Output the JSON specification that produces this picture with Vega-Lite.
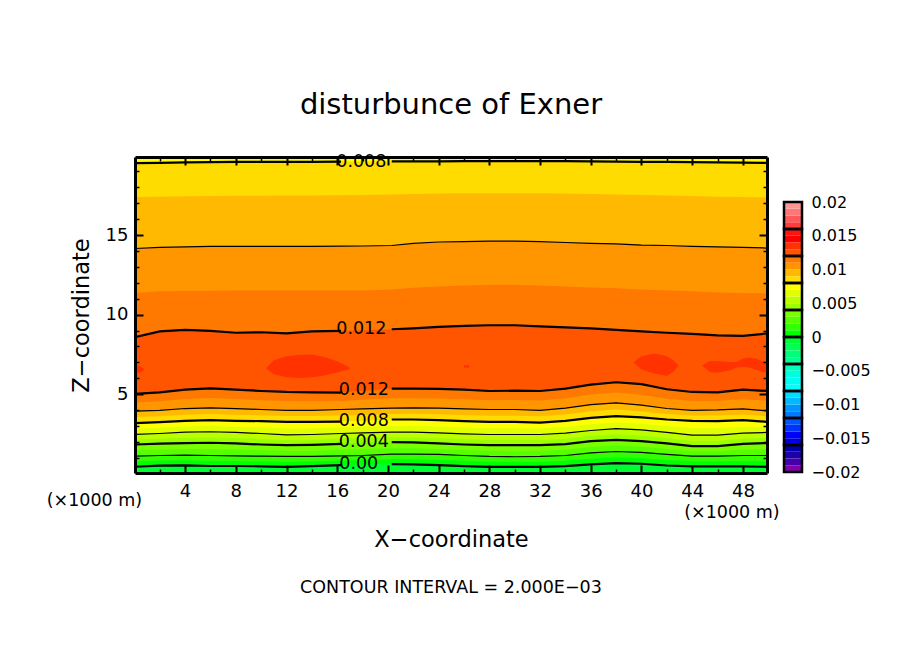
{
  "$schema": "https://vega.github.io/schema/vega-lite/v6.json",
  "padding": {"left": 46, "top": 90, "right": 5, "bottom": 5},
  "background": "white",
  "bounds": "flush",
  "spacing": 17,
  "config": {
    "font": "DejaVu Sans",
    "view": {"stroke": null},
    "legend": {"disable": true},
    "axis": {"grid": false}
  },
  "datasets": {
    "contours": [
      {"x":0,"side":"w","b0":0.44,"b1":0.78,"b2":1.11,"b3":1.49,"b4":1.84,"b5":2.16,"b6":2.47,"b7":2.83,"b8":3.18,"b9":3.56,"b10":3.93,"b11":4.48,"b12":5.02,"u11":8.57,"u10":11.36,"u9":14.15,"u8":17.38,"u7":19.51},
      {"x":2,"side":"w","b0":0.51,"b1":0.83,"b2":1.15,"b3":1.52,"b4":1.89,"b5":2.21,"b6":2.53,"b7":2.89,"b8":3.24,"b9":3.62,"b10":3.99,"b11":4.56,"b12":5.12,"u11":8.95,"u10":11.46,"u9":14.22,"u8":17.41,"u7":19.53},
      {"x":4,"side":"w","b0":0.53,"b1":0.85,"b2":1.17,"b3":1.55,"b4":1.93,"b5":2.27,"b6":2.62,"b7":2.97,"b8":3.33,"b9":3.71,"b10":4.10,"b11":4.70,"b12":5.29,"u11":9.04,"u10":11.49,"u9":14.25,"u8":17.43,"u7":19.56},
      {"x":6,"side":"w","b0":0.49,"b1":0.82,"b2":1.15,"b3":1.55,"b4":1.95,"b5":2.29,"b6":2.64,"b7":3.00,"b8":3.37,"b9":3.75,"b10":4.14,"b11":4.76,"b12":5.37,"u11":8.98,"u10":11.50,"u9":14.28,"u8":17.45,"u7":19.58},
      {"x":8,"side":"w","b0":0.49,"b1":0.81,"b2":1.13,"b3":1.52,"b4":1.91,"b5":2.25,"b6":2.60,"b7":2.96,"b8":3.33,"b9":3.71,"b10":4.10,"b11":4.70,"b12":5.29,"u11":8.86,"u10":11.52,"u9":14.28,"u8":17.46,"u7":19.60},
      {"x":10,"side":"w","b0":0.47,"b1":0.79,"b2":1.11,"b3":1.48,"b4":1.84,"b5":2.19,"b6":2.53,"b7":2.92,"b8":3.31,"b9":3.67,"b10":4.04,"b11":4.62,"b12":5.20,"u11":8.89,"u10":11.52,"u9":14.28,"u8":17.46,"u7":19.60},
      {"x":12,"side":"w","b0":0.44,"b1":0.76,"b2":1.09,"b3":1.44,"b4":1.80,"b5":2.12,"b6":2.45,"b7":2.85,"b8":3.26,"b9":3.63,"b10":3.99,"b11":4.57,"b12":5.14,"u11":8.82,"u10":11.52,"u9":14.28,"u8":17.48,"u7":19.60},
      {"x":14,"side":"w","b0":0.48,"b1":0.79,"b2":1.09,"b3":1.45,"b4":1.82,"b5":2.14,"b6":2.47,"b7":2.86,"b8":3.26,"b9":3.63,"b10":3.99,"b11":4.56,"b12":5.12,"u11":8.95,"u10":11.52,"u9":14.28,"u8":17.48,"u7":19.60},
      {"x":16.3,"side":"w","b0":0.55,"b1":0.84,"b2":1.13,"b3":1.51,"b4":1.88,"b5":2.21,"b6":2.53,"b7":2.91,"b8":3.28,"b9":3.66,"b10":4.04,"b11":4.57,"b12":5.10,"u11":8.98,"u10":11.52,"u9":14.30,"u8":17.50,"u7":19.61},
      {"x":18,"side":"m","b0":0.59,"b1":0.87,"b2":1.15,"b3":1.55,"b4":1.95,"b5":2.26,"b6":2.57,"b7":2.95,"b8":3.33,"b9":3.70,"b10":4.08,"b11":4.65,"b12":5.22,"u11":9.01,"u10":11.52,"u9":14.31,"u8":17.51,"u7":19.61},
      {"x":20.3,"side":"e","b0":0.61,"b1":0.92,"b2":1.24,"b3":1.61,"b4":1.99,"b5":2.30,"b6":2.62,"b7":3.01,"b8":3.41,"b9":3.76,"b10":4.12,"b11":4.74,"b12":5.35,"u11":9.08,"u10":11.58,"u9":14.34,"u8":17.54,"u7":19.62},
      {"x":22,"side":"e","b0":0.59,"b1":0.91,"b2":1.24,"b3":1.60,"b4":1.97,"b5":2.29,"b6":2.62,"b7":3.01,"b8":3.41,"b9":3.77,"b10":4.14,"b11":4.75,"b12":5.35,"u11":9.14,"u10":11.68,"u9":14.47,"u8":17.57,"u7":19.63},
      {"x":24,"side":"e","b0":0.55,"b1":0.88,"b2":1.22,"b3":1.56,"b4":1.91,"b5":2.24,"b6":2.57,"b7":2.97,"b8":3.37,"b9":3.74,"b10":4.12,"b11":4.73,"b12":5.33,"u11":9.23,"u10":11.77,"u9":14.56,"u8":17.60,"u7":19.63},
      {"x":26,"side":"e","b0":0.48,"b1":0.82,"b2":1.15,"b3":1.50,"b4":1.84,"b5":2.18,"b6":2.51,"b7":2.91,"b8":3.31,"b9":3.69,"b10":4.08,"b11":4.68,"b12":5.29,"u11":9.29,"u10":11.83,"u9":14.59,"u8":17.63,"u7":19.64},
      {"x":28,"side":"e","b0":0.44,"b1":0.76,"b2":1.09,"b3":1.44,"b4":1.80,"b5":2.13,"b6":2.47,"b7":2.86,"b8":3.26,"b9":3.65,"b10":4.04,"b11":4.62,"b12":5.20,"u11":9.33,"u10":11.87,"u9":14.62,"u8":17.63,"u7":19.64},
      {"x":30,"side":"e","b0":0.44,"b1":0.75,"b2":1.07,"b3":1.43,"b4":1.80,"b5":2.13,"b6":2.47,"b7":2.86,"b8":3.26,"b9":3.65,"b10":4.04,"b11":4.63,"b12":5.22,"u11":9.33,"u10":11.87,"u9":14.62,"u8":17.63,"u7":19.64},
      {"x":32,"side":"e","b0":0.44,"b1":0.76,"b2":1.09,"b3":1.44,"b4":1.80,"b5":2.13,"b6":2.47,"b7":2.84,"b8":3.22,"b9":3.61,"b10":3.99,"b11":4.60,"b12":5.20,"u11":9.26,"u10":11.83,"u9":14.59,"u8":17.62,"u7":19.64},
      {"x":34,"side":"e","b0":0.48,"b1":0.82,"b2":1.15,"b3":1.51,"b4":1.86,"b5":2.21,"b6":2.55,"b7":2.94,"b8":3.33,"b9":3.72,"b10":4.12,"b11":4.74,"b12":5.35,"u11":9.20,"u10":11.77,"u9":14.53,"u8":17.60,"u7":19.64},
      {"x":36,"side":"e","b0":0.59,"b1":0.95,"b2":1.32,"b3":1.69,"b4":2.05,"b5":2.39,"b6":2.72,"b7":3.12,"b8":3.51,"b9":3.93,"b10":4.35,"b11":4.98,"b12":5.60,"u11":9.14,"u10":11.71,"u9":14.47,"u8":17.57,"u7":19.62},
      {"x":38,"side":"e","b0":0.67,"b1":1.04,"b2":1.40,"b3":1.77,"b4":2.13,"b5":2.49,"b6":2.84,"b7":3.23,"b8":3.62,"b9":4.04,"b10":4.45,"b11":5.10,"b12":5.75,"u11":9.04,"u10":11.65,"u9":14.44,"u8":17.54,"u7":19.61},
      {"x":40,"side":"e","b0":0.63,"b1":0.98,"b2":1.34,"b3":1.70,"b4":2.05,"b5":2.40,"b6":2.76,"b7":3.15,"b8":3.54,"b9":3.92,"b10":4.31,"b11":4.97,"b12":5.63,"u11":8.95,"u10":11.58,"u9":14.37,"u8":17.51,"u7":19.60},
      {"x":42,"side":"e","b0":0.52,"b1":0.87,"b2":1.22,"b3":1.56,"b4":1.91,"b5":2.25,"b6":2.60,"b7":3.00,"b8":3.41,"b9":3.75,"b10":4.10,"b11":4.71,"b12":5.31,"u11":8.86,"u10":11.52,"u9":14.34,"u8":17.48,"u7":19.59},
      {"x":44,"side":"e","b0":0.46,"b1":0.79,"b2":1.11,"b3":1.42,"b4":1.74,"b5":2.08,"b6":2.43,"b7":2.88,"b8":3.33,"b9":3.66,"b10":3.99,"b11":4.57,"b12":5.14,"u11":8.79,"u10":11.46,"u9":14.28,"u8":17.45,"u7":19.58},
      {"x":46,"side":"e","b0":0.46,"b1":0.79,"b2":1.11,"b3":1.42,"b4":1.74,"b5":2.08,"b6":2.43,"b7":2.87,"b8":3.31,"b9":3.66,"b10":4.01,"b11":4.57,"b12":5.12,"u11":8.70,"u10":11.39,"u9":14.25,"u8":17.41,"u7":19.56},
      {"x":48,"side":"e","b0":0.46,"b1":0.81,"b2":1.15,"b3":1.52,"b4":1.88,"b5":2.22,"b6":2.55,"b7":2.96,"b8":3.37,"b9":3.72,"b10":4.08,"b11":4.68,"b12":5.29,"u11":8.67,"u10":11.36,"u9":14.22,"u8":17.39,"u7":19.55},
      {"x":50,"side":"e","b0":0.44,"b1":0.80,"b2":1.15,"b3":1.54,"b4":1.93,"b5":2.26,"b6":2.60,"b7":2.93,"b8":3.26,"b9":3.61,"b10":3.95,"b11":4.58,"b12":5.20,"u11":8.82,"u10":11.33,"u9":14.18,"u8":17.37,"u7":19.53}
    ],
    "blobs": [
      {"blob":"a","band":"b13","x":0,"lo":6.34,"hi":6.84},
      {"blob":"a","band":"b13","x":0.4,"lo":6.36,"hi":6.78},
      {"blob":"a","band":"b13","x":0.8,"lo":6.52,"hi":6.55},
      {"blob":"b","band":"b13","x":10.4,"lo":6.61,"hi":6.65},
      {"blob":"b","band":"b13","x":11,"lo":6.25,"hi":7.13},
      {"blob":"b","band":"b13","x":12,"lo":6.07,"hi":7.38},
      {"blob":"b","band":"b13","x":13,"lo":6.02,"hi":7.47},
      {"blob":"b","band":"b13","x":14,"lo":6.07,"hi":7.49},
      {"blob":"b","band":"b13","x":15,"lo":6.17,"hi":7.34},
      {"blob":"b","band":"b13","x":16,"lo":6.36,"hi":7.07},
      {"blob":"b","band":"b13","x":17,"lo":6.59,"hi":6.67},
      {"blob":"c","band":"b13","x":26,"lo":6.67,"hi":6.82},
      {"blob":"c","band":"b13","x":26.4,"lo":6.67,"hi":6.82},
      {"blob":"d","band":"b13","x":39.4,"lo":6.98,"hi":7.03},
      {"blob":"d","band":"b13","x":40,"lo":6.55,"hi":7.38},
      {"blob":"d","band":"b13","x":41,"lo":6.30,"hi":7.55},
      {"blob":"d","band":"b13","x":42,"lo":6.15,"hi":7.38},
      {"blob":"d","band":"b13","x":42.5,"lo":6.40,"hi":7.13},
      {"blob":"d","band":"b13","x":42.9,"lo":6.77,"hi":6.84},
      {"blob":"e","band":"b13","x":44.8,"lo":6.78,"hi":6.82},
      {"blob":"e","band":"b13","x":45.4,"lo":6.40,"hi":7.09},
      {"blob":"e","band":"b13","x":46,"lo":6.34,"hi":7.09},
      {"blob":"e","band":"b13","x":47,"lo":6.50,"hi":7.03},
      {"blob":"e","band":"b13","x":47.5,"lo":6.67,"hi":7.03},
      {"blob":"e","band":"b13","x":48,"lo":6.71,"hi":7.24},
      {"blob":"e","band":"b13","x":48.5,"lo":6.67,"hi":7.30},
      {"blob":"e","band":"b13","x":49,"lo":6.55,"hi":7.24},
      {"blob":"e","band":"b13","x":49.5,"lo":6.40,"hi":7.09},
      {"blob":"e","band":"b13","x":50,"lo":6.34,"hi":7.03}
    ],
    "notes": [
      {"x":17.9,"z":19.61,"label":"0.008"},
      {"x":17.9,"z":9.08,"label":"0.012"},
      {"x":18.1,"z":5.25,"label":"0.012"},
      {"x":18.1,"z":3.31,"label":"0.008"},
      {"x":18.1,"z":1.99,"label":"0.004"},
      {"x":17.7,"z":0.61,"label":"0.00"},
      {"x":-3.15,"z":-1.7,"label":"(×1000 m)"},
      {"x":47.13,"z":-2.45,"label":"(×1000 m)"},
      {"x":24.97,"z":-7.18,"label":"CONTOUR INTERVAL = 2.000E−03"}
    ],
    "scale": [
      {"band":-20,"lo":-0.020,"hi":-0.019},{"band":-19,"lo":-0.019,"hi":-0.018},{"band":-18,"lo":-0.018,"hi":-0.017},{"band":-17,"lo":-0.017,"hi":-0.016},
      {"band":-16,"lo":-0.016,"hi":-0.015},{"band":-15,"lo":-0.015,"hi":-0.014},{"band":-14,"lo":-0.014,"hi":-0.013},{"band":-13,"lo":-0.013,"hi":-0.012},
      {"band":-12,"lo":-0.012,"hi":-0.011},{"band":-11,"lo":-0.011,"hi":-0.010},{"band":-10,"lo":-0.010,"hi":-0.009},{"band":-9,"lo":-0.009,"hi":-0.008},
      {"band":-8,"lo":-0.008,"hi":-0.007},{"band":-7,"lo":-0.007,"hi":-0.006},{"band":-6,"lo":-0.006,"hi":-0.005},{"band":-5,"lo":-0.005,"hi":-0.004},
      {"band":-4,"lo":-0.004,"hi":-0.003},{"band":-3,"lo":-0.003,"hi":-0.002},{"band":-2,"lo":-0.002,"hi":-0.001},{"band":-1,"lo":-0.001,"hi":0},
      {"band":0,"lo":0,"hi":0.001},{"band":1,"lo":0.001,"hi":0.002},{"band":2,"lo":0.002,"hi":0.003},{"band":3,"lo":0.003,"hi":0.004},
      {"band":4,"lo":0.004,"hi":0.005},{"band":5,"lo":0.005,"hi":0.006},{"band":6,"lo":0.006,"hi":0.007},{"band":7,"lo":0.007,"hi":0.008},
      {"band":8,"lo":0.008,"hi":0.009},{"band":9,"lo":0.009,"hi":0.010},{"band":10,"lo":0.010,"hi":0.011},{"band":11,"lo":0.011,"hi":0.012},
      {"band":12,"lo":0.012,"hi":0.013},{"band":13,"lo":0.013,"hi":0.014},{"band":14,"lo":0.014,"hi":0.015},{"band":15,"lo":0.015,"hi":0.016},
      {"band":16,"lo":0.016,"hi":0.017},{"band":17,"lo":0.017,"hi":0.018},{"band":18,"lo":0.018,"hi":0.019},{"band":19,"lo":0.019,"hi":0.020}
    ],
    "segments": [
      {"lo":-0.020,"hi":-0.016},{"lo":-0.016,"hi":-0.012},{"lo":-0.012,"hi":-0.008},{"lo":-0.008,"hi":-0.004},{"lo":-0.004,"hi":0},
      {"lo":0,"hi":0.004},{"lo":0.004,"hi":0.008},{"lo":0.008,"hi":0.012},{"lo":0.012,"hi":0.016},{"lo":0.016,"hi":0.020}
    ]
  },
  "hconcat": [
    {
      "width": 632,
      "height": 316,
      "title": {"text": "disturbunce of Exner", "fontSize": 29, "fontWeight": "normal", "offset": 33, "anchor": "middle"},
      "view": {"fill": "#00ff32"},
      "encoding": {
        "x": {"field": "x", "type": "quantitative", "scale": {"domain": [0.05, 49.9]}, "axis": null}
      },
      "resolve": {"axis": {"x": "independent", "y": "independent"}},
      "layer": [
        {
          "data": {"name": "contours"},
          "transform": [{"fold": ["b0","b1","b2","b3","b4","b5","b6","b7","b8","b9","b10","b11","b12"], "as": ["band", "z"]}],
          "mark": {"type": "area", "clip": true},
          "encoding": {
            "x": {
              "field": "x", "type": "quantitative", "scale": {"domain": [0.05, 49.9]},
              "axis": {
                "orient": "bottom", "title": "X−coordinate", "titleFontSize": 22.5, "titleFontWeight": "normal", "titlePadding": 24,
                "values": [2,4,6,8,10,12,14,16,18,20,22,24,26,28,30,32,34,36,38,40,42,44,46,48],
                "labelExpr": "datum.value % 4 == 0 ? datum.label : ''", "labelFontSize": 18, "labelColor": "black", "labelPadding": 17, "labelOverlap": false,
                "tickColor": "black", "tickSize": {"condition": {"test": "datum.value % 4 == 0", "value": -8}, "value": -4}, "tickWidth": {"condition": {"test": "datum.value % 4 == 0", "value": 2}, "value": 1.5},
                "domainColor": "black", "domainWidth": 3, "zindex": 1
              }
            },
            "y": {
              "field": "z", "type": "quantitative", "scale": {"domain": [0.05, 19.9]},
              "axis": {
                "orient": "left", "title": "Z−coordinate", "titleFontSize": 22.5, "titleFontWeight": "normal", "titlePadding": 12,
                "values": [1,2,3,4,5,6,7,8,9,10,11,12,13,14,15,16,17,18,19],
                "labelExpr": "datum.value % 5 == 0 ? datum.label : ''", "labelFontSize": 18, "labelColor": "black", "labelPadding": 15, "labelOverlap": false,
                "tickColor": "black", "tickSize": {"condition": {"test": "datum.value % 5 == 0", "value": -8}, "value": -4}, "tickWidth": {"condition": {"test": "datum.value % 5 == 0", "value": 2}, "value": 1.5},
                "domainColor": "black", "domainWidth": 3, "zindex": 1
              }
            },
            "y2": {"datum": 19.9},
            "color": {
              "field": "band", "type": "nominal",
              "scale": {
                "domain": ["b0","b1","b2","b3","b4","b5","b6","b7","b8","b9","b10","b11","b12","b13","u7","u8","u9","u10","u11"],
                "range": ["#00ff00","#32ff00","#55ff00","#78ff00","#9bff00","#beff00","#e1ff00","#ffff00","#ffdc00","#ffb900","#ff9600","#ff7800","#ff5500","#ff3200","#ffff00","#ffdc00","#ffb900","#ff9600","#ff7800"]
              }
            }
          }
        },
        {
          "data": {"name": "contours"},
          "transform": [{"fold": ["u11","u10","u9","u8","u7"], "as": ["band", "z"]}],
          "mark": {"type": "area", "clip": true},
          "encoding": {
            "y": {"field": "z", "type": "quantitative", "scale": {"domain": [0.05, 19.9]}, "axis": null},
            "y2": {"datum": 19.9},
            "color": {"field": "band", "type": "nominal"}
          }
        },
        {
          "data": {"name": "blobs"},
          "mark": {"type": "area", "clip": true},
          "encoding": {
            "y": {"field": "lo", "type": "quantitative", "scale": {"domain": [0.05, 19.9]}, "axis": null},
            "y2": {"field": "hi"},
            "detail": {"field": "blob"},
            "color": {"field": "band", "type": "nominal"}
          }
        },
        {
          "data": {"name": "contours"},
          "transform": [{"fold": ["b2","b6","b10","u9"], "as": ["level", "z"]}],
          "mark": {"type": "line", "clip": true, "color": "black", "strokeWidth": 1.2},
          "encoding": {
            "y": {"field": "z", "type": "quantitative", "scale": {"domain": [0.05, 19.9]}, "axis": null},
            "detail": {"field": "level"}
          }
        },
        {
          "data": {"name": "contours"},
          "transform": [
            {"filter": "datum.side != 'm'"},
            {"fold": ["b0","b4","b8","b12","u11","u7"], "as": ["level", "z"]}
          ],
          "mark": {"type": "line", "clip": true, "color": "black", "strokeWidth": 2.2},
          "encoding": {
            "y": {"field": "z", "type": "quantitative", "scale": {"domain": [0.05, 19.9]}, "axis": null},
            "detail": [{"field": "level"}, {"field": "side"}]
          }
        },
        {
          "data": {"name": "notes"},
          "mark": {"type": "text", "fontSize": 17.5, "color": "black", "baseline": "middle"},
          "encoding": {
            "y": {"field": "z", "type": "quantitative", "scale": {"domain": [0.05, 19.9]}, "axis": null},
            "text": {"field": "label"}
          }
        },
        {
          "data": {"name": "notes"},
          "mark": {"type": "text", "opacity": 0},
          "encoding": {
            "x": {
              "field": "x", "type": "quantitative", "scale": {"domain": [0.05, 49.9]},
              "axis": {
                "orient": "top", "title": null, "labels": false,
                "values": [2,4,6,8,10,12,14,16,18,20,22,24,26,28,30,32,34,36,38,40,42,44,46,48],
                "tickColor": "black", "tickSize": {"condition": {"test": "datum.value % 4 == 0", "value": -8}, "value": -4}, "tickWidth": {"condition": {"test": "datum.value % 4 == 0", "value": 2}, "value": 1.5},
                "domainColor": "black", "domainWidth": 3, "zindex": 1
              }
            },
            "y": {
              "field": "z", "type": "quantitative", "scale": {"domain": [0.05, 19.9]},
              "axis": {
                "orient": "right", "title": null, "labels": false,
                "values": [1,2,3,4,5,6,7,8,9,10,11,12,13,14,15,16,17,18,19],
                "tickColor": "black", "tickSize": {"condition": {"test": "datum.value % 5 == 0", "value": -8}, "value": -4}, "tickWidth": {"condition": {"test": "datum.value % 5 == 0", "value": 2}, "value": 1.5},
                "domainColor": "black", "domainWidth": 3, "zindex": 1
              }
            },
            "text": {"field": "label"}
          }
        }
      ]
    },
    {
      "width": 18,
      "height": 316,
      "layer": [
        {
          "data": {"name": "scale"},
          "mark": "rect",
          "encoding": {
            "y": {
              "field": "lo", "type": "quantitative",
              "scale": {"domain": [-0.02, 0.02], "range": [315, 45]},
              "axis": {
                "orient": "right", "title": null, "domain": false, "ticks": false, "labelPadding": 9, "labelFontSize": 16, "labelColor": "black",
                "values": [-0.02,-0.015,-0.01,-0.005,0,0.005,0.01,0.015,0.02], "format": ".3~f", "labelOverlap": false, "labelBound": false, "labelFlush": false
              }
            },
            "y2": {"field": "hi"},
            "color": {
              "field": "band", "type": "nominal",
              "scale": {
                "domain": [-20,-19,-18,-17,-16,-15,-14,-13,-12,-11,-10,-9,-8,-7,-6,-5,-4,-3,-2,-1,0,1,2,3,4,5,6,7,8,9,10,11,12,13,14,15,16,17,18,19],
                "range": ["#8200aa","#4600aa","#1e00aa","#0000aa","#0000dc","#0000ff","#0032ff","#0055ff","#0078ff","#0096ff","#00b9ff","#00dcff","#00ffff","#00fff0","#00ffe1","#00ffbe","#00ff96","#00ff78","#00ff55","#00ff32","#00ff00","#32ff00","#55ff00","#78ff00","#9bff00","#beff00","#e1ff00","#ffff00","#ffdc00","#ffb900","#ff9600","#ff7800","#ff5500","#ff3200","#ff0000","#ff1414","#ff3c3c","#ff5a5a","#ff7878","#ff9696"]
              }
            }
          }
        },
        {
          "data": {"name": "segments"},
          "mark": {"type": "rect", "fill": null, "stroke": "black", "strokeWidth": 2.5},
          "encoding": {
            "y": {
              "field": "lo", "type": "quantitative",
              "axis": {
                "orient": "right", "title": null, "domain": false, "ticks": false, "labelPadding": 9, "labelFontSize": 16, "labelColor": "black",
                "values": [-0.02,-0.015,-0.01,-0.005,0,0.005,0.01,0.015,0.02], "format": ".3~f", "labelOverlap": false, "labelBound": false, "labelFlush": false
              }
            },
            "y2": {"field": "hi"}
          }
        }
      ]
    }
  ],
  "resolve": {"scale": {"color": "independent", "y": "independent", "x": "independent"}}
}
